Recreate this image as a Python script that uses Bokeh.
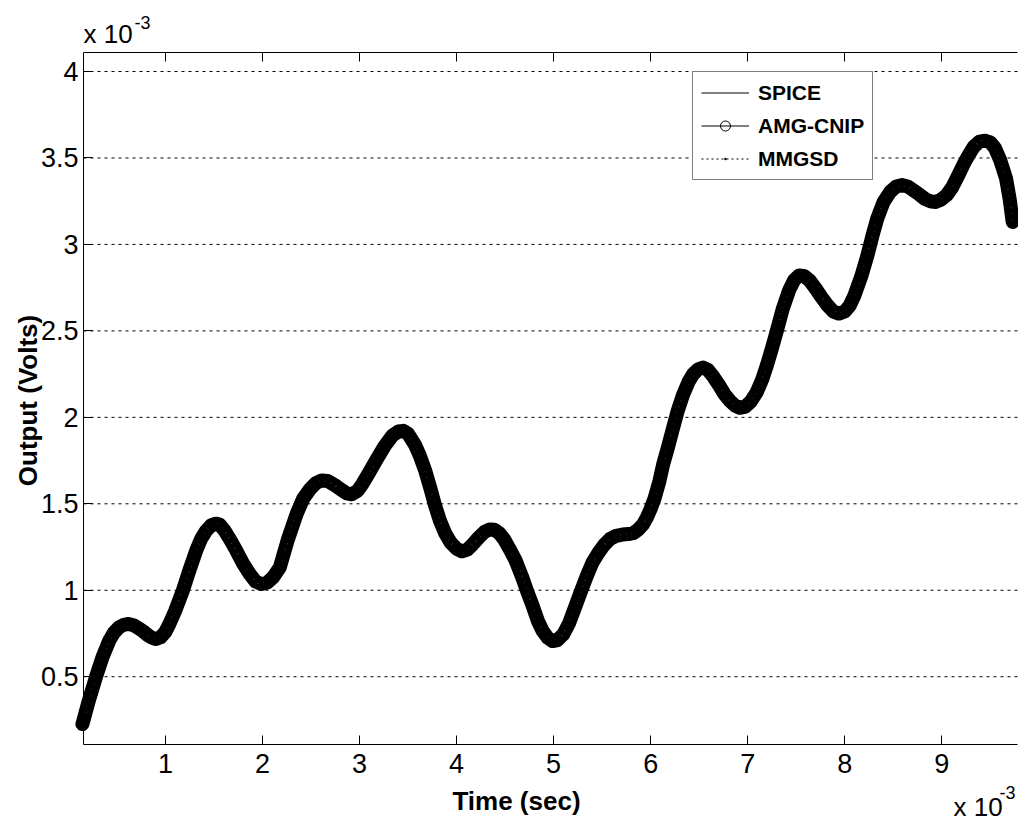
import math
from bokeh.plotting import figure
from bokeh.models import Range1d, FixedTicker, LinearAxis, Label, Legend, LegendItem
from bokeh.embed import file_html
from bokeh.resources import INLINE

# ---- data (time in units of 1e-3 s, output in units of 1e-3 V) ----
time_ms = [0.145, 0.21, 0.283, 0.35, 0.421, 0.47, 0.52, 0.57, 0.62, 0.67,
           0.72, 0.77, 0.82, 0.86, 0.903, 0.95, 1.00, 1.041, 1.10, 1.179,
           1.25, 1.317, 1.37, 1.421, 1.47, 1.52, 1.56, 1.61, 1.67, 1.731,
           1.80, 1.869, 1.93, 1.99, 2.05, 2.11, 2.179, 2.26, 2.352, 2.42,
           2.49, 2.55, 2.61, 2.67, 2.74, 2.81, 2.87, 2.92, 2.98, 3.03,
           3.087, 3.17, 3.26, 3.34, 3.40, 3.45, 3.50, 3.571, 3.62, 3.675,
           3.73, 3.779, 3.83, 3.883, 3.94, 4.00, 4.056, 4.11, 4.17, 4.229,
           4.29, 4.34, 4.39, 4.44, 4.49, 4.541, 4.61, 4.68, 4.73, 4.784,
           4.84, 4.887, 4.94, 4.99, 5.04, 5.10, 5.16, 5.22, 5.286, 5.34,
           5.40, 5.46, 5.52, 5.58, 5.645, 5.71, 5.77, 5.82, 5.87, 5.92,
           5.96, 6.00, 6.041, 6.09, 6.128, 6.18, 6.231, 6.28, 6.334, 6.39,
           6.438, 6.49, 6.54, 6.59, 6.64, 6.70, 6.76, 6.817, 6.87, 6.92,
           6.97, 7.03, 7.093, 7.15, 7.197, 7.25, 7.30, 7.36, 7.427, 7.48,
           7.53, 7.58, 7.64, 7.70, 7.76, 7.82, 7.88, 7.94, 8.00, 8.05,
           8.10, 8.17, 8.234, 8.29, 8.335, 8.40, 8.469, 8.53, 8.59, 8.65,
           8.71, 8.771, 8.83, 8.89, 8.939, 8.99, 9.05, 9.107, 9.17, 9.23,
           9.275, 9.33, 9.39, 9.444, 9.50, 9.55, 9.60, 9.662, 9.70, 9.73]
output_mv = [0.226, 0.36, 0.496, 0.61, 0.708, 0.755, 0.785, 0.800, 0.805, 0.798,
             0.782, 0.763, 0.740, 0.726, 0.718, 0.728, 0.760, 0.805, 0.88, 0.997,
             1.12, 1.229, 1.30, 1.345, 1.375, 1.385, 1.380, 1.345, 1.29, 1.229,
             1.155, 1.094, 1.050, 1.036, 1.045, 1.075, 1.132, 1.29, 1.441, 1.53,
             1.585, 1.620, 1.635, 1.632, 1.610, 1.582, 1.560, 1.555, 1.575, 1.615,
             1.669, 1.75, 1.835, 1.895, 1.918, 1.922, 1.905, 1.842, 1.78, 1.695,
             1.59, 1.490, 1.400, 1.330, 1.275, 1.240, 1.225, 1.235, 1.268, 1.305,
             1.338, 1.352, 1.350, 1.330, 1.295, 1.244, 1.17, 1.07, 0.99, 0.910,
             0.82, 0.765, 0.725, 0.706, 0.712, 0.745, 0.81, 0.90, 1.000, 1.08,
             1.16, 1.215, 1.262, 1.296, 1.315, 1.322, 1.325, 1.330, 1.350, 1.380,
             1.42, 1.47, 1.533, 1.63, 1.726, 1.83, 1.938, 2.04, 2.131, 2.205,
             2.250, 2.278, 2.288, 2.275, 2.240, 2.190, 2.135, 2.095, 2.068, 2.055,
             2.060, 2.090, 2.145, 2.22, 2.30, 2.40, 2.50, 2.625, 2.735, 2.795,
             2.820, 2.818, 2.790, 2.745, 2.695, 2.650, 2.613, 2.600, 2.612, 2.645,
             2.705, 2.815, 2.937, 3.06, 3.15, 3.245, 3.305, 3.335, 3.343, 3.335,
             3.312, 3.288, 3.262, 3.248, 3.246, 3.258, 3.285, 3.330, 3.400, 3.470,
             3.515, 3.565, 3.595, 3.600, 3.590, 3.555, 3.49, 3.382, 3.26, 3.130]

series_names = ["SPICE", "AMG-CNIP", "MMGSD"]
x_ticks = [1, 2, 3, 4, 5, 6, 7, 8, 9]
x_tick_labels = ["1", "2", "3", "4", "5", "6", "7", "8", "9"]
y_ticks = [0.5, 1.0, 1.5, 2.0, 2.5, 3.0, 3.5, 4.0]
y_tick_labels = ["0.5", "1", "1.5", "2", "2.5", "3", "3.5", "4"]
x_label = "Time (sec)"
y_label = "Output (Volts)"
exp_main = "x 10"
exp_sup = "-3"

# axis limits of the plot box
X_MIN, X_MAX = 0.156, 9.78
Y_MIN, Y_MAX = 0.108, 4.110

# ---- layout: the frame covers the whole canvas, axes are pinned at the box ----
W, H = 1018, 822
BOX_L, BOX_R, BOX_T, BOX_B = 83, 1017, 52, 744
SX = (BOX_R - BOX_L) / (X_MAX - X_MIN)
SY = (BOX_B - BOX_T) / (Y_MAX - Y_MIN)
xr = Range1d(X_MIN - BOX_L / SX, X_MAX + (W - BOX_R) / SX)
yr = Range1d(Y_MIN - (H - BOX_B) / SY, Y_MAX + BOX_T / SY)


def px_x(px):
    return xr.start + px / SX


def px_y(py):
    return yr.end - py / SY


FONT = "Liberation Sans"

p = figure(width=W, height=H, output_backend="svg", toolbar_location=None,
           x_range=xr, y_range=yr, min_border=0, min_border_left=0,
           min_border_right=0, min_border_top=0, min_border_bottom=0,
           x_axis_location=None, y_axis_location=None)
p.outline_line_color = None
p.background_fill_color = "white"
p.border_fill_color = "white"
p.xgrid.visible = False
p.ygrid.visible = False


def style_axis(ax, ticks, labels, size):
    ax.ticker = FixedTicker(ticks=ticks)
    ax.major_label_overrides = dict(zip(ticks, labels))
    ax.major_tick_in = 9
    ax.major_tick_out = 0
    ax.minor_tick_line_color = None
    ax.axis_line_color = "black"
    ax.major_tick_line_color = "black"
    ax.major_label_text_font = FONT
    ax.major_label_text_font_size = size
    ax.major_label_text_color = "black"


xaxis = LinearAxis(fixed_location=Y_MIN, bounds=(X_MIN, X_MAX))
style_axis(xaxis, x_ticks, x_tick_labels, "27px")
xaxis.major_label_standoff = 9
p.add_layout(xaxis, "below")

yaxis = LinearAxis(fixed_location=X_MIN, bounds=(Y_MIN, Y_MAX))
style_axis(yaxis, y_ticks, y_tick_labels, "27px")
yaxis.major_label_standoff = 5
p.add_layout(yaxis, "left")

topaxis = LinearAxis(fixed_location=Y_MAX, bounds=(X_MIN, X_MAX))
style_axis(topaxis, x_ticks, ["" for _ in x_ticks], "0px")
topaxis.major_label_standoff = 0
p.add_layout(topaxis, "above")

# dotted horizontal grid, limited to the plot box
p.segment(x0=[X_MIN] * len(y_ticks), x1=[X_MAX] * len(y_ticks), y0=y_ticks, y1=y_ticks,
          line_color="black", line_width=1, line_dash="3 4")

# thick band formed by the overlapping curves
p.line(time_ms, output_mv, line_color="black", line_width=14,
       line_join="round", line_cap="round")
p.line(time_ms, output_mv, line_color="white", line_width=1.3, line_dash="1 5",
       line_alpha=0.9)

r_spice = p.line(time_ms, output_mv, line_color="black", line_width=1)
r_amg_l = p.line(time_ms, output_mv, line_color="black", line_width=1)
r_amg_m = p.scatter(time_ms, output_mv, marker="circle", size=11,
                    line_color="black", fill_color=None, line_width=1)
r_mm_l = p.line(time_ms, output_mv, line_color="black", line_width=1, line_dash="2 3")
r_mm_m = p.scatter(time_ms, output_mv, marker="dot", size=12, line_width=3,
                   line_color="black", fill_color="black")

legend = Legend(items=[LegendItem(label=series_names[0], renderers=[r_spice]),
                       LegendItem(label=series_names[1], renderers=[r_amg_l, r_amg_m]),
                       LegendItem(label=series_names[2], renderers=[r_mm_l, r_mm_m])],
                location=(692, H - 180), orientation="vertical",
                glyph_width=48, glyph_height=25, label_height=25,
                label_standoff=9, spacing=8, padding=8, margin=0,
                label_text_font=FONT, label_text_font_size="21px",
                label_text_font_style="bold", label_text_color="black",
                border_line_color="black", border_line_width=1,
                background_fill_color="white", background_fill_alpha=1)
p.add_layout(legend, "center")


# texts around the box
def add_text(text, px, py, size, bold=False, align="left", angle=0.0):
    p.add_layout(Label(x=px_x(px), y=px_y(py), text=text, text_font=FONT,
                       text_font_size=size, text_font_style="bold" if bold else "normal",
                       text_color="black", text_align=align, text_baseline="middle",
                       angle=angle))


add_text(exp_main, 83, 33, "26px")
add_text(exp_sup, 134, 22, "18px")
add_text(exp_main, 953, 806, "26px")
add_text(exp_sup, 999, 792, "18px")
add_text(x_label, 516, 800, "26px", bold=True, align="center")
add_text(y_label, 27, 400, "26px", bold=True, align="center", angle=math.pi / 2)

open("out.html", "w").write(file_html(p, INLINE))
